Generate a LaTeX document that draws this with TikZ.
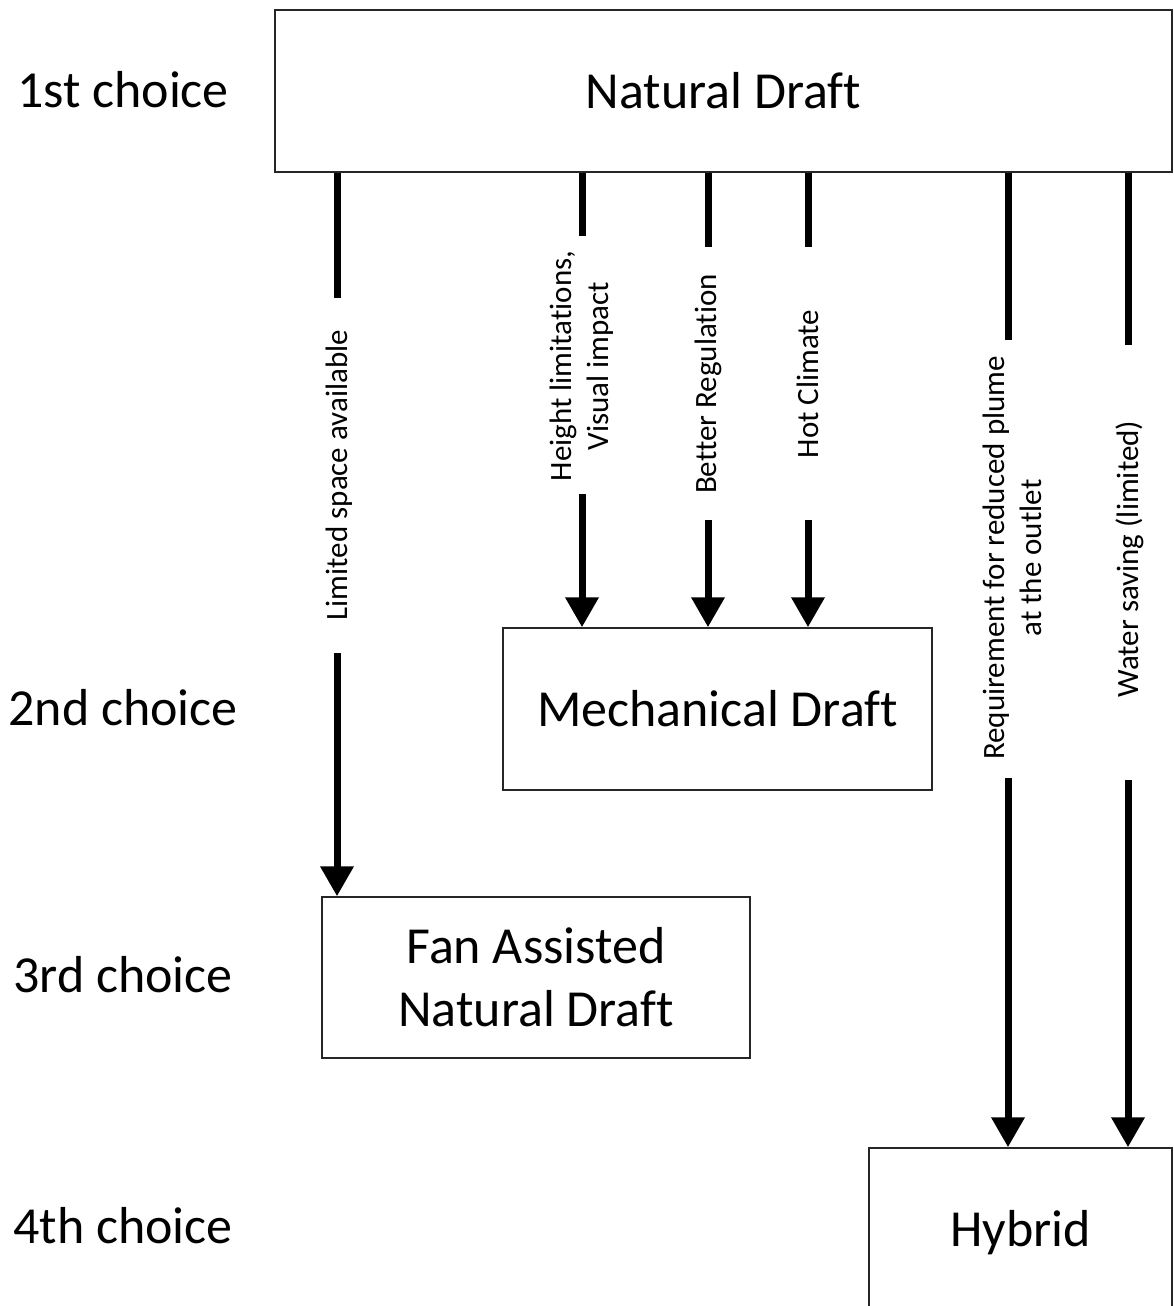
\documentclass[tikz,border=0pt]{standalone}
\usepackage{fontspec}
\setmainfont{Carlito}[Ligatures=NoCommon]
\usetikzlibrary{arrows.meta}
\begin{document}
\begin{tikzpicture}[x=1pt,y=-1pt,
  box/.style={draw=black!85, line width=1.5pt, fill=white, inner sep=0pt, align=center, font=\fontsize{52}{63}\selectfont},
  lvl/.style={font=\fontsize{52}{63}\selectfont, inner sep=0pt},
  lab/.style={rotate=90, font=\fontsize{31}{37}\selectfont, align=center, inner sep=0pt},
  conn/.style={line width=7pt},
  arr/.style={line width=7pt, -{Triangle[width=32pt,length=30pt]}}]
\useasboundingbox (0,0) rectangle (1173,1306);
% boxes
\node[box, minimum width=897pt, minimum height=162pt] (nd) at (723.5,91) {Natural Draft};
\node[box, minimum width=429pt, minimum height=162pt] (md) at (717.5,709) {Mechanical Draft};
\node[box, minimum width=428pt, minimum height=161pt] (fan) at (536,977.5) {Fan Assisted\\Natural Draft};
\node[box, minimum width=303pt, minimum height=172pt] (hy) at (1020.5,1234) {\raisebox{12pt}{Hybrid}};
% level labels
\node[lvl] (l1) at (123,90) {1st choice};
\node[lvl] (l2) at (123,708) {2nd choice};
\node[lvl] (l3) at (123,975) {3rd choice};
\node[lvl] (l4) at (123,1226) {4th choice};
% connector labels
\node[lab] (t1) at (339,475) {Limited space available};
\node[lab] (t2) at (582,366) {Height limitations,\\Visual impact};
\node[lab] (t3) at (708,384) {Better Regulation};
\node[lab] (t4) at (808,384) {Hot Climate};
\node[lab] (t5) at (1012,558) {Requirement for reduced plume\\at the outlet};
\node[lab] (t6) at (1130,559) {Water saving (limited)};
% segment end points
\coordinate (a1) at (337,298); \coordinate (b1) at (337,653);
\coordinate (a2) at (582,236); \coordinate (b2) at (582,494);
\coordinate (a3) at (708,247); \coordinate (b3) at (708,520);
\coordinate (a4) at (808,247); \coordinate (b4) at (808,520);
\coordinate (a5) at (1008,340); \coordinate (b5) at (1008,778);
\coordinate (a6) at (1128,345); \coordinate (b6) at (1128,780);
% connectors
\draw[conn] (nd.south -| a1) -- (a1);
\draw[arr] (b1) -- (fan.north -| b1);
\draw[conn] (nd.south -| a2) -- (a2);
\draw[arr] (b2) -- (md.north -| b2);
\draw[conn] (nd.south -| a3) -- (a3);
\draw[arr] (b3) -- (md.north -| b3);
\draw[conn] (nd.south -| a4) -- (a4);
\draw[arr] (b4) -- (md.north -| b4);
\draw[conn] (nd.south -| a5) -- (a5);
\draw[arr] (b5) -- (hy.north -| b5);
\draw[conn] (nd.south -| a6) -- (a6);
\draw[arr] (b6) -- (hy.north -| b6);
\end{tikzpicture}
\end{document}
